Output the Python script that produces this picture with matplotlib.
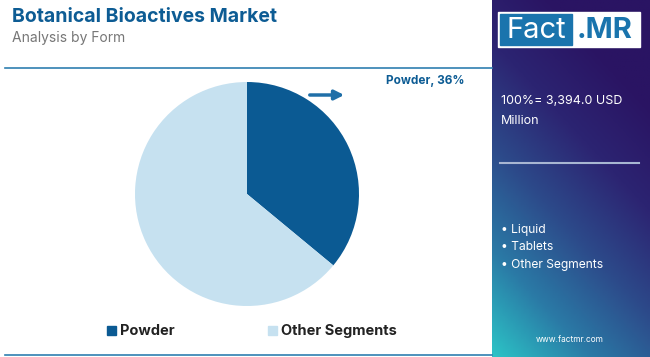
import numpy as np
from matplotlib import pyplot as plt
from matplotlib.colors import LinearSegmentedColormap
from matplotlib.patches import Rectangle

# data
segments = ['Powder', 'Other Segments']
shares = [36, 64]
colors = ['#0b5a93', '#c6e1f0']
other_items = ['Liquid', 'Tablets', 'Other Segments']
total_label = '100%= 3,394.0 USD\nMillion'

W, H = 650, 357
fig = plt.figure(figsize=(W / 100, H / 100), dpi=100)
fig.patch.set_facecolor('white')
font = ['Inter', 'DejaVu Sans']


def fx(px):
    return px / W


def fy(py):
    return 1 - py / H


# title
fig.text(fx(12), fy(17), 'Botanical Bioactives Market', fontsize=14, fontweight='bold',
         color='#0d5c94', family=font, va='center')
fig.text(fx(12), fy(38), 'Analysis by Form', fontsize=10, color='#777777', family=font, va='center')

# separator lines
fig.add_artist(plt.Line2D([fx(5), fx(492)], [fy(68), fy(68)], color='#2f7fb0', lw=1.2))
fig.add_artist(plt.Line2D([fx(5), fx(492)], [fy(355), fy(355)], color='#2f7fb0', lw=1.2))

# pie
ax = fig.add_axes([fx(135), fy(306), fx(224), 224 / H])
ax.pie(shares, colors=colors, startangle=90, counterclock=False,
       wedgeprops=dict(linewidth=0))
ax.set_xlim(-1, 1)
ax.set_ylim(-1, 1)
ax.set_aspect('equal')

# callout
fig.add_artist(plt.Annotation('', xy=(fx(347), fy(95)), xytext=(fx(307), fy(95)),
                              xycoords='figure fraction', textcoords='figure fraction',
                              arrowprops=dict(arrowstyle='-|>', color='#1f6fa8', lw=2.5,
                                              mutation_scale=14)))
fig.text(fx(386), fy(81), f'{segments[0]}, {shares[0]}%', fontsize=8.5, fontweight='bold',
         color='#0d5c94', family=font, va='center')

# legend
leg_x = [107, 268]
for x, name, c in zip(leg_x, segments, colors):
    fig.add_artist(Rectangle((fx(x), fy(335)), fx(9), 9 / H, color=c, transform=fig.transFigure))
    fig.text(fx(x + 13), fy(331), name, fontsize=10.5, fontweight='bold', color='#222222',
             family=font, va='center')

# right panel with gradient
pax = fig.add_axes([fx(492), 0, fx(158), 1])
pax.set_axis_off()
cmap = LinearSegmentedColormap.from_list('panel', ['#2cc3c6', '#2a7aa6', '#2d4a8a', '#2c2472', '#2a1463'])
yy, xx = np.mgrid[0:1:200j, 0:1:60j]
t = np.clip(0.85 * yy + 0.4 * xx, 0, 1)
pax.imshow(t, cmap=cmap, origin='lower', extent=[0, 1, 0, 1], aspect='auto')
pax.set_xlim(0, 1)
pax.set_ylim(0, 1)

# logo
fig.add_artist(Rectangle((fx(498), fy(47)), fx(142), 35 / H, color='white', transform=fig.transFigure))
fig.add_artist(Rectangle((fx(500), fy(45)), fx(72), 31 / H, color='#1a74ad', transform=fig.transFigure))
fig.text(fx(536), fy(30), 'Fact', fontsize=21, color='white', family=font, ha='center', va='center')
fig.text(fx(605), fy(30), '.MR', fontsize=21, fontweight='bold', color='#1a74ad', family=font,
         ha='center', va='center')

fig.text(fx(501), fy(111), total_label, fontsize=9, color='white', family=font, va='center',
         linespacing=1.8)
fig.add_artist(plt.Line2D([fx(500), fx(639)], [fy(163), fy(163)], color='#a8b6d2', lw=1.5))
for i, item in enumerate(other_items):
    fig.text(fx(501), fy(230 + i * 17.5), '\u2022 ' + item, fontsize=8.7, color='white',
             family=font, va='center')
fig.text(fx(570), fy(340), 'www.factmr.com', fontsize=6, color='white', family=font,
         ha='center', va='center')

fig.savefig('out.png', dpi=100)
